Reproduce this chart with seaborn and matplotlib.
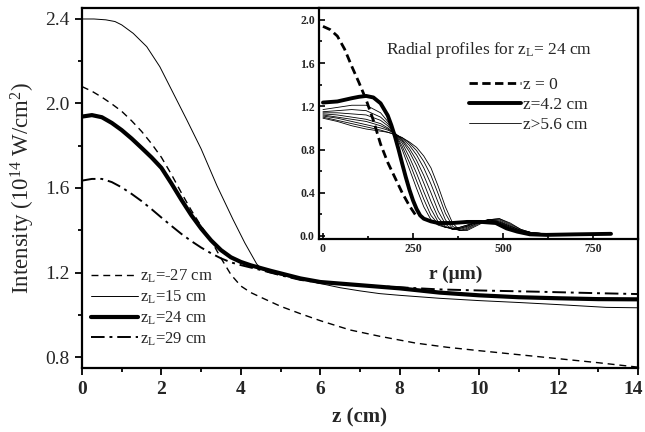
import numpy as np
import pandas as pd
import matplotlib
matplotlib.use("Agg")
import matplotlib.pyplot as plt
from matplotlib.ticker import MultipleLocator, FormatStrFormatter
from matplotlib.transforms import ScaledTranslation
import seaborn as sns

sns.set_style("ticks")
plt.rcParams["font.family"] = ["Liberation Serif", "DejaVu Serif"]
plt.rcParams["mathtext.fontset"] = "custom"
plt.rcParams["mathtext.rm"] = "Liberation Serif"
plt.rcParams["mathtext.it"] = "Liberation Serif:italic"
plt.rcParams["mathtext.bf"] = "Liberation Serif:bold"

# ---- on-axis peak intensity vs propagation distance z ----
z_m27 = [0, 0.25, 0.5, 0.75, 1.0, 1.25, 1.5, 1.75, 2.0, 2.25, 2.5, 2.75, 3.0,
         3.25, 3.5, 3.75, 4.0, 4.25, 4.5, 5.0, 5.5, 6.0, 6.75, 7.5, 8.4, 9.2,
         10, 11, 12, 13, 14]
I_m27 = [2.080, 2.058, 2.030, 1.998, 1.963, 1.918, 1.868, 1.810, 1.745,
         1.665, 1.578, 1.495, 1.420, 1.352, 1.268, 1.190, 1.136, 1.105, 1.083,
         1.040, 1.005, 0.972, 0.928, 0.898, 0.866, 0.846, 0.830, 0.811, 0.792,
         0.773, 0.752]

z_15 = [0, 0.3, 0.6, 0.83, 1.0, 1.29, 1.63, 1.96, 2.3, 2.64, 3.0, 3.4, 3.8,
        4.1, 4.4, 4.55, 4.7, 5.0, 5.5, 6.0, 6.5, 7.0, 7.5, 8.0, 9, 10, 11,
        12, 13.2, 14]
I_15 = [2.400, 2.400, 2.396, 2.388, 2.372, 2.332, 2.269, 2.174, 2.048, 1.922,
        1.785, 1.610, 1.452, 1.340, 1.240, 1.213, 1.200, 1.188, 1.168, 1.148,
        1.128, 1.113, 1.100, 1.092, 1.078, 1.067, 1.058, 1.048, 1.035, 1.033]

z_24 = [0, 0.25, 0.5, 0.75, 1.0, 1.25, 1.5, 1.75, 2.0, 2.25, 2.5, 2.75, 3.0,
        3.25, 3.5, 3.75, 4.0, 4.25, 4.5, 4.75, 5.0, 5.5, 6.0, 7.0, 8.0, 9.0,
        10, 11, 12, 13, 14]
I_24 = [1.938, 1.945, 1.935, 1.908, 1.874, 1.834, 1.790, 1.745, 1.695, 1.622,
        1.545, 1.472, 1.408, 1.352, 1.306, 1.272, 1.250, 1.234, 1.221, 1.208,
        1.196, 1.172, 1.155, 1.140, 1.125, 1.105, 1.092, 1.083, 1.078, 1.074,
        1.073]

z_29 = [0, 0.25, 0.5, 0.75, 1.0, 1.25, 1.5, 1.75, 2.0, 2.25, 2.5, 2.75, 3.0,
        3.25, 3.5, 3.75, 4.0, 4.5, 5.0, 5.5, 6.0, 7.0, 8.0, 9.0, 10, 11.5,
        13, 14]
I_29 = [1.635, 1.643, 1.643, 1.628, 1.603, 1.572, 1.538, 1.500, 1.460, 1.421,
        1.383, 1.349, 1.318, 1.291, 1.267, 1.248, 1.235, 1.212, 1.187, 1.165,
        1.152, 1.140, 1.130, 1.120, 1.115, 1.109, 1.102, 1.098]

# ---- radial profiles for z_L = 24 cm ----
r_z0 = [0, 20, 40, 60, 80, 100, 120, 140, 160, 180, 200, 220, 240, 260]
I_z0 = [1.94, 1.91, 1.85, 1.73, 1.57, 1.42, 1.26, 1.07, 0.85, 0.68, 0.54,
        0.40, 0.28, 0.18]

r_z42 = [0, 40, 80, 100, 120, 140, 160, 180, 190, 200, 210, 220, 230, 240,
         250, 260, 270, 280, 300, 320, 360, 400, 440, 480, 510, 540, 575, 620,
         700, 800]
I_z42 = [1.235, 1.245, 1.275, 1.288, 1.296, 1.282, 1.228, 1.115, 1.025, 0.92,
         0.80, 0.67, 0.545, 0.43, 0.33, 0.25, 0.19, 0.16, 0.135, 0.12, 0.12,
         0.13, 0.13, 0.12, 0.07, 0.04, 0.015, 0.01, 0.015, 0.02]

r_far = [0, 40, 80, 120, 160, 180, 200, 220, 240, 260, 280, 300, 320, 340,
         360, 380, 400, 430, 460, 490, 520, 550, 580, 620, 700, 800]
I_far_a = [1.17, 1.19, 1.21, 1.21, 1.14, 1.06, 0.95, 0.80, 0.62, 0.44, 0.27,
           0.15, 0.10, 0.08, 0.07, 0.08, 0.10, 0.13, 0.14, 0.12, 0.07, 0.04,
           0.02, 0.02, 0.02, 0.02]
I_far_b = [1.15, 1.16, 1.17, 1.16, 1.10, 1.04, 0.95, 0.83, 0.68, 0.51, 0.34,
           0.19, 0.11, 0.08, 0.07, 0.08, 0.10, 0.13, 0.14, 0.12, 0.08, 0.04,
           0.02, 0.02, 0.02, 0.02]
I_far_c = [1.14, 1.14, 1.13, 1.12, 1.07, 1.02, 0.95, 0.86, 0.73, 0.58, 0.41,
           0.25, 0.13, 0.08, 0.07, 0.07, 0.09, 0.13, 0.15, 0.13, 0.08, 0.04,
           0.02, 0.02, 0.02, 0.02]
I_far_d = [1.13, 1.12, 1.10, 1.08, 1.04, 1.00, 0.95, 0.88, 0.78, 0.65, 0.49,
           0.32, 0.17, 0.09, 0.06, 0.07, 0.09, 0.13, 0.15, 0.13, 0.09, 0.05,
           0.03, 0.02, 0.02, 0.02]
I_far_e = [1.12, 1.10, 1.08, 1.06, 1.02, 0.99, 0.95, 0.89, 0.81, 0.70, 0.56,
           0.40, 0.23, 0.11, 0.06, 0.06, 0.08, 0.12, 0.15, 0.14, 0.09, 0.05,
           0.03, 0.02, 0.02, 0.02]
I_far_f = [1.11, 1.09, 1.06, 1.03, 1.00, 0.98, 0.95, 0.90, 0.84, 0.75, 0.63,
           0.48, 0.31, 0.15, 0.07, 0.05, 0.07, 0.12, 0.15, 0.15, 0.10, 0.05,
           0.03, 0.02, 0.02, 0.02]
I_far_g = [1.10, 1.07, 1.04, 1.01, 0.98, 0.96, 0.94, 0.91, 0.86, 0.79, 0.69,
           0.56, 0.39, 0.21, 0.09, 0.05, 0.06, 0.11, 0.15, 0.16, 0.11, 0.06,
           0.03, 0.02, 0.02, 0.02]
I_far_h = [1.09, 1.06, 1.02, 0.99, 0.97, 0.96, 0.94, 0.91, 0.87, 0.82, 0.74,
           0.63, 0.46, 0.27, 0.12, 0.05, 0.05, 0.10, 0.15, 0.16, 0.12, 0.06,
           0.03, 0.02, 0.02, 0.02]
far_profiles = [I_far_a, I_far_b, I_far_c, I_far_d, I_far_e, I_far_f,
                I_far_g, I_far_h]

fig = plt.figure(figsize=(6.45, 4.32), dpi=100)
ax = fig.add_axes([82 / 645, 1 - 368 / 432, 556 / 645, 360 / 432])

sns.lineplot(x=z_m27, y=I_m27, ax=ax, color="black", linewidth=1.0,
             linestyle=(0, (5, 3.5)), label=r"z$_{\rm L}$=-27 cm", zorder=3)
sns.lineplot(x=z_15, y=I_15, ax=ax, color="black", linewidth=0.7,
             label=r"z$_{\rm L}$=15 cm", zorder=2)
sns.lineplot(x=z_24, y=I_24, ax=ax, color="black", linewidth=3.0,
             label=r"z$_{\rm L}$=24 cm", zorder=2)
sns.lineplot(x=z_29, y=I_29, ax=ax, color="black", linewidth=1.4,
             linestyle=(0, (7, 2.5, 1.5, 2.5)), label=r"z$_{\rm L}$=29 cm",
             zorder=3)

ax.set_xlim(0, 14)
ax.set_ylim(0.748, 2.452)
ax.xaxis.set_major_locator(MultipleLocator(2))
ax.xaxis.set_minor_locator(MultipleLocator(1))
ax.yaxis.set_major_locator(MultipleLocator(0.4))
ax.yaxis.set_minor_locator(MultipleLocator(0.2))
ax.yaxis.set_major_formatter(FormatStrFormatter("%.1f"))
ax.tick_params(which="both", direction="out", top=False, right=False,
               width=1.3, color="black")
ax.tick_params(which="major", length=5, labelsize=14, pad=4)
ax.tick_params(which="minor", length=3)
for sp in ax.spines.values():
    sp.set_linewidth(1.6)
    sp.set_color("black")
ax.set_xlabel("z (cm)", fontsize=15, fontweight="bold", labelpad=7)
ax.set_ylabel(r"Intensity (10$^{14}$ W/cm$^{2}$)", fontsize=16.5, labelpad=6)

ax.legend(loc="upper left", bbox_to_anchor=(0.017, 0.278), frameon=False,
          fontsize=12, handlelength=2.8, handletextpad=0.1,
          labelspacing=0.2, borderpad=0, borderaxespad=0)

# ---- inset: radial profiles ----
ins = fig.add_axes([319 / 645, 1 - 239 / 432, 319 / 645, 231 / 432])
ins.set_facecolor("white")
for k, prof in enumerate(far_profiles):
    sns.lineplot(x=r_far, y=prof, ax=ins, color="black", linewidth=0.6,
                 label=("z>5.6 cm" if k == 0 else None), zorder=2)
sns.lineplot(x=r_z0, y=I_z0, ax=ins, color="black", linewidth=2.0,
             linestyle=(0, (3, 1.6)), label="z = 0", zorder=3)
sns.lineplot(x=r_z42, y=I_z42, ax=ins, color="black", linewidth=2.8,
             label="z=4.2 cm", zorder=4)

ins.set_xlim(-11, 875)
ins.set_ylim(-0.028, 2.11)
ins.xaxis.set_major_locator(MultipleLocator(250))
ins.xaxis.set_minor_locator(MultipleLocator(125))
ins.yaxis.set_major_locator(MultipleLocator(0.4))
ins.yaxis.set_minor_locator(MultipleLocator(0.2))
ins.yaxis.set_major_formatter(FormatStrFormatter("%.1f"))
ins.tick_params(which="both", direction="in", top=False, right=False,
                width=1.2, color="black")
ins.tick_params(which="major", length=4, labelsize=8.5, pad=3)
ins.tick_params(which="minor", length=2)
for sp in ins.spines.values():
    sp.set_linewidth(1.6)
    sp.set_color("black")
ins.set_xlabel("r (μm)", fontsize=14, fontweight="bold")
ins.xaxis.set_label_coords((456 - 319) / 319, -0.115)
ins.set_ylabel("")
ins.text(0.21, 0.818, r"Radial profiles for z$_{\rm L}$= 24 cm",
         transform=ins.transAxes, fontsize=12.5, va="center", ha="left")

h, l = ins.get_legend_handles_labels()
order = [l.index("z = 0"), l.index("z=4.2 cm"), l.index("z>5.6 cm")]
ins.legend([h[i] for i in order], [l[i] for i in order], loc="upper left",
           bbox_to_anchor=(0.47, 0.70), frameon=False, fontsize=12.5,
           handlelength=3.0, handletextpad=0.1, labelspacing=0.2,
           borderpad=0, borderaxespad=0)

# bold tick labels, and keep the z = 14 label inside the canvas
fig.canvas.draw()
for lbl in (ax.get_xticklabels() + ins.get_xticklabels()
            + ins.get_yticklabels()):
    lbl.set_fontweight("bold")
for tick, loc in zip(ax.xaxis.get_major_ticks(), ax.xaxis.get_majorticklocs()):
    if abs(loc - 14) < 1e-9:
        tick.label1.set_horizontalalignment("right")
        tick.label1.set_transform(
            tick.label1.get_transform()
            + ScaledTranslation(5 / 100, 0, fig.dpi_scale_trans))

fig.savefig("out.png", dpi=100)
